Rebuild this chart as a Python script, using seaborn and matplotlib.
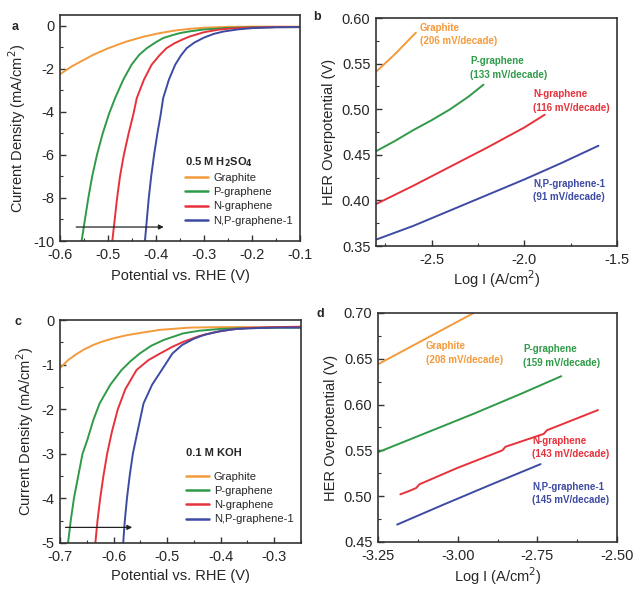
import numpy as np
import pandas as pd
import matplotlib
matplotlib.use("Agg")
import matplotlib.pyplot as plt
from matplotlib.ticker import MultipleLocator, FormatStrFormatter
import seaborn as sns

sns.set_style("ticks")
plt.rcParams['font.family'] = ['Liberation Sans', 'DejaVu Sans']
plt.rcParams['axes.unicode_minus'] = False

names = ['Graphite', 'P-graphene', 'N-graphene', 'N,P-graphene-1']
colors = ['#f39a3b', '#2f9a48', '#e6323b', '#3d4ba3']

# panel a: LSV in 0.5 M H2SO4
a_graphite_E = [-0.600, -0.575, -0.550, -0.531, -0.500, -0.475, -0.461, -0.425, -0.392, -0.360, -0.329, -0.300, -0.250, -0.200, -0.150, -0.100]
a_graphite_j = [-2.25, -1.88, -1.58, -1.35, -1.05, -0.84, -0.73, -0.50, -0.34, -0.22, -0.14, -0.09, -0.05, -0.04, -0.04, -0.04]
a_p_E = [-0.555, -0.548, -0.541, -0.533, -0.523, -0.511, -0.498, -0.485, -0.468, -0.451, -0.435, -0.419, -0.400, -0.385, -0.365, -0.350, -0.330, -0.300, -0.250, -0.200, -0.150, -0.100]
a_p_j = [-10, -9, -8, -7, -6, -5, -4.1, -3.35, -2.5, -1.81, -1.35, -1.04, -0.76, -0.57, -0.43, -0.34, -0.26, -0.17, -0.10, -0.07, -0.06, -0.06]
a_n_E = [-0.491, -0.486, -0.481, -0.475, -0.467, -0.457, -0.447, -0.440, -0.425, -0.409, -0.393, -0.378, -0.362, -0.346, -0.330, -0.300, -0.270, -0.240, -0.200, -0.150, -0.100]
a_n_j = [-10, -9, -8, -7, -6, -5, -4.1, -3.36, -2.5, -1.81, -1.38, -1.04, -0.82, -0.65, -0.50, -0.30, -0.18, -0.12, -0.08, -0.06, -0.06]
a_np_E = [-0.423, -0.419, -0.415, -0.410, -0.404, -0.397, -0.390, -0.385, -0.373, -0.360, -0.348, -0.336, -0.320, -0.300, -0.280, -0.260, -0.230, -0.200, -0.150, -0.100]
a_np_j = [-10, -9, -8, -7, -6, -5, -4.1, -3.36, -2.5, -1.81, -1.38, -1.04, -0.78, -0.55, -0.38, -0.27, -0.17, -0.11, -0.07, -0.06]

# panel b: Tafel in acid
b_graphite_x = [-2.80, -2.70, -2.585]
b_graphite_y = [0.541, 0.560, 0.584]
b_p_x = [-2.80, -2.70, -2.60, -2.50, -2.40, -2.30, -2.22]
b_p_y = [0.454, 0.465, 0.477, 0.488, 0.500, 0.514, 0.527]
b_n_x = [-2.80, -2.60, -2.40, -2.20, -2.00, -1.89]
b_n_y = [0.396, 0.416, 0.437, 0.458, 0.480, 0.494]
b_np_x = [-2.80, -2.60, -2.40, -2.20, -2.00, -1.80, -1.60]
b_np_y = [0.357, 0.372, 0.389, 0.406, 0.423, 0.441, 0.460]
b_labels = ['Graphite\n(206 mV/decade)', 'P-graphene\n(133 mV/decade)',
            'N-graphene\n(116 mV/decade)', 'N,P-graphene-1\n(91 mV/decade)']

# panel c: LSV in 0.1 M KOH
c_graphite_E = [-0.700, -0.685, -0.670, -0.655, -0.638, -0.620, -0.600, -0.575, -0.550, -0.513, -0.480, -0.457, -0.400, -0.350, -0.300, -0.250]
c_graphite_j = [-1.08, -0.90, -0.77, -0.66, -0.56, -0.48, -0.41, -0.34, -0.29, -0.22, -0.19, -0.17, -0.16, -0.16, -0.16, -0.16]
c_p_E = [-0.685, -0.680, -0.674, -0.666, -0.658, -0.649, -0.638, -0.626, -0.606, -0.585, -0.568, -0.551, -0.530, -0.507, -0.470, -0.440, -0.400, -0.350, -0.300, -0.250]
c_p_j = [-5, -4.5, -4, -3.5, -3, -2.69, -2.25, -1.87, -1.45, -1.12, -0.92, -0.75, -0.58, -0.45, -0.30, -0.24, -0.20, -0.18, -0.17, -0.17]
c_n_E = [-0.634, -0.630, -0.625, -0.619, -0.612, -0.603, -0.592, -0.578, -0.557, -0.535, -0.513, -0.490, -0.470, -0.440, -0.410, -0.380, -0.350, -0.300, -0.250]
c_n_j = [-5, -4.5, -4, -3.5, -3, -2.5, -2, -1.55, -1.12, -0.9, -0.75, -0.6, -0.49, -0.36, -0.27, -0.21, -0.18, -0.16, -0.15]
c_np_E = [-0.582, -0.579, -0.575, -0.570, -0.564, -0.557, -0.544, -0.528, -0.510, -0.490, -0.472, -0.450, -0.430, -0.400, -0.370, -0.330, -0.290, -0.250]
c_np_j = [-5, -4.5, -4, -3.5, -3, -2.6, -1.87, -1.45, -1.12, -0.75, -0.56, -0.42, -0.33, -0.25, -0.20, -0.18, -0.17, -0.17]

# panel d: Tafel in base
d_graphite_x = [-3.25, -3.10, -2.95]
d_graphite_y = [0.644, 0.672, 0.700]
d_p_x = [-3.25, -3.10, -2.95, -2.80, -2.675]
d_p_y = [0.548, 0.569, 0.590, 0.612, 0.631]
d_n_x = [-3.18, -3.15, -3.13, -3.12, -3.00, -2.86, -2.85, -2.73, -2.72, -2.56]
d_n_y = [0.502, 0.506, 0.509, 0.513, 0.531, 0.550, 0.554, 0.568, 0.572, 0.594]
d_np_x = [-3.19, -3.05, -2.90, -2.74]
d_np_y = [0.469, 0.490, 0.512, 0.535]
d_labels = ['Graphite\n(208 mV/decade)', 'P-graphene\n(159 mV/decade)',
            'N-graphene\n(143 mV/decade)', 'N,P-graphene-1\n(145 mV/decade)']


def to_df(xs, ys):
    frames = []
    for name, x, y in zip(names, xs, ys):
        frames.append(pd.DataFrame({'x': x, 'y': y, 'sample': name}))
    return pd.concat(frames, ignore_index=True)


df_a = to_df([a_graphite_E, a_p_E, a_n_E, a_np_E], [a_graphite_j, a_p_j, a_n_j, a_np_j])
df_b = to_df([b_graphite_x, b_p_x, b_n_x, b_np_x], [b_graphite_y, b_p_y, b_n_y, b_np_y])
df_c = to_df([c_graphite_E, c_p_E, c_n_E, c_np_E], [c_graphite_j, c_p_j, c_n_j, c_np_j])
df_d = to_df([d_graphite_x, d_p_x, d_n_x, d_np_x], [d_graphite_y, d_p_y, d_n_y, d_np_y])

palette = dict(zip(names, colors))
FS_TICK = 10.5
FS_LABEL = 10.5

fig = plt.figure(figsize=(6.33, 5.89), dpi=100)
ax_a = fig.add_axes([0.0948, 0.5908, 0.379, 0.3837])
ax_b = fig.add_axes([0.594, 0.5823, 0.3807, 0.387])
ax_c = fig.add_axes([0.0948, 0.0781, 0.3807, 0.3786])
ax_d = fig.add_axes([0.5972, 0.0798, 0.3776, 0.3888])

for ax, df in [(ax_a, df_a), (ax_b, df_b), (ax_c, df_c), (ax_d, df_d)]:
    sns.lineplot(data=df, x='x', y='y', hue='sample', palette=palette, ax=ax,
                 sort=False, estimator=None, lw=1.4, legend=(ax in (ax_a, ax_c)))
    for s in ax.spines.values():
        s.set_color('#333333')
        s.set_linewidth(1.2)
    ax.tick_params(which='both', direction='in', labelsize=FS_TICK, color='#333333')
    ax.tick_params(which='major', length=4, width=1)
    ax.tick_params(which='minor', length=2, width=0.8)
    ax.tick_params(axis='x', which='major', pad=5)
    ax.tick_params(axis='y', which='major', pad=4)

# panel a
ax_a.set_xlim(-0.6, -0.1)
ax_a.set_ylim(-10, 0.5)
ax_a.xaxis.set_major_locator(MultipleLocator(0.1))
ax_a.xaxis.set_minor_locator(MultipleLocator(0.05))
ax_a.yaxis.set_major_locator(MultipleLocator(2))
ax_a.yaxis.set_minor_locator(MultipleLocator(1))
ax_a.xaxis.set_major_formatter(FormatStrFormatter('%.1f'))
ax_a.yaxis.set_major_formatter(FormatStrFormatter('%d'))
ax_a.set_xlabel('Potential vs. RHE (V)', fontsize=FS_LABEL, labelpad=5)
ax_a.set_ylabel('Current Density (mA/cm$^2$)', fontsize=FS_LABEL)
ax_a.annotate('', xy=(-0.378, -9.35), xytext=(-0.572, -9.35),
              arrowprops=dict(arrowstyle='-|>', color='#222222', lw=0.9, mutation_scale=7))

# panel c
ax_c.set_xlim(-0.7, -0.25)
ax_c.set_ylim(-5, 0)
ax_c.xaxis.set_major_locator(MultipleLocator(0.1))
ax_c.xaxis.set_minor_locator(MultipleLocator(0.05))
ax_c.yaxis.set_major_locator(MultipleLocator(1))
ax_c.yaxis.set_minor_locator(MultipleLocator(0.5))
ax_c.xaxis.set_major_formatter(FormatStrFormatter('%.1f'))
ax_c.yaxis.set_major_formatter(FormatStrFormatter('%d'))
ax_c.set_xlabel('Potential vs. RHE (V)', fontsize=FS_LABEL, labelpad=4)
ax_c.set_ylabel('Current Density (mA/cm$^2$)', fontsize=FS_LABEL)
ax_c.annotate('', xy=(-0.56, -4.65), xytext=(-0.695, -4.65),
              arrowprops=dict(arrowstyle='-|>', color='#222222', lw=0.9, mutation_scale=7))

# electrolyte labels and legends
legend_setup = [(ax_a, r'0.5 M H$_\mathbf{2}$SO$_\mathbf{4}$', 0.35, 0.30),
                (ax_c, '0.1 M KOH', 0.404, 0.318)]
for ax, title, ty, ly in legend_setup:
    ax.text(0.521, ty, title, transform=ax.transAxes, fontsize=8, fontweight='bold',
            va='center', ha='left')
    handles, labels = ax.get_legend_handles_labels()
    leg = ax.legend(handles, labels, loc='upper left', bbox_to_anchor=(0.521, ly),
                    frameon=False, fontsize=8, handlelength=2.1, handletextpad=0.45,
                    labelspacing=0.37, borderpad=0, borderaxespad=0)
    for line in leg.get_lines():
        line.set_linewidth(1.8)

# panel b
ax_b.set_xlim(-2.8, -1.5)
ax_b.set_ylim(0.35, 0.60)
ax_b.xaxis.set_major_locator(MultipleLocator(0.5))
ax_b.xaxis.set_minor_locator(MultipleLocator(0.25))
ax_b.yaxis.set_major_locator(MultipleLocator(0.05))
ax_b.yaxis.set_minor_locator(MultipleLocator(0.025))
ax_b.xaxis.set_major_formatter(FormatStrFormatter('%.1f'))
ax_b.yaxis.set_major_formatter(FormatStrFormatter('%.2f'))
ax_b.set_xlabel('Log I (A/cm$^2$)', fontsize=FS_LABEL, labelpad=1)
ax_b.set_ylabel('HER Overpotential (V)', fontsize=FS_LABEL)
b_pos = [(-2.562, 0.595), (-2.292, 0.558), (-1.953, 0.522), (-1.953, 0.424)]
for (x, y), txt, c in zip(b_pos, b_labels, colors):
    ax_b.text(x, y, txt, color=c, fontsize=7, fontweight='bold', va='top', ha='left', linespacing=1.45)

# panel d
ax_d.set_xlim(-3.25, -2.5)
ax_d.set_ylim(0.45, 0.70)
ax_d.xaxis.set_major_locator(MultipleLocator(0.25))
ax_d.xaxis.set_minor_locator(MultipleLocator(0.125))
ax_d.yaxis.set_major_locator(MultipleLocator(0.05))
ax_d.yaxis.set_minor_locator(MultipleLocator(0.025))
ax_d.xaxis.set_major_formatter(FormatStrFormatter('%.2f'))
ax_d.yaxis.set_major_formatter(FormatStrFormatter('%.2f'))
ax_d.set_xlabel('Log I (A/cm$^2$)', fontsize=FS_LABEL, labelpad=2)
ax_d.set_ylabel('HER Overpotential (V)', fontsize=FS_LABEL)
d_pos = [(-3.10, 0.669), (-2.795, 0.666), (-2.767, 0.566), (-2.767, 0.516)]
for (x, y), txt, c in zip(d_pos, d_labels, colors):
    ax_d.text(x, y, txt, color=c, fontsize=7, fontweight='bold', va='top', ha='left', linespacing=1.45)

# panel letters
for lbl, x, y in [('a', 15, 27), ('b', 317, 17), ('c', 18, 322), ('d', 320, 314)]:
    fig.text(x / 633, 1 - y / 589, lbl, fontsize=9, fontweight='bold', va='center', ha='center')

fig.savefig('out.png', dpi=100)
